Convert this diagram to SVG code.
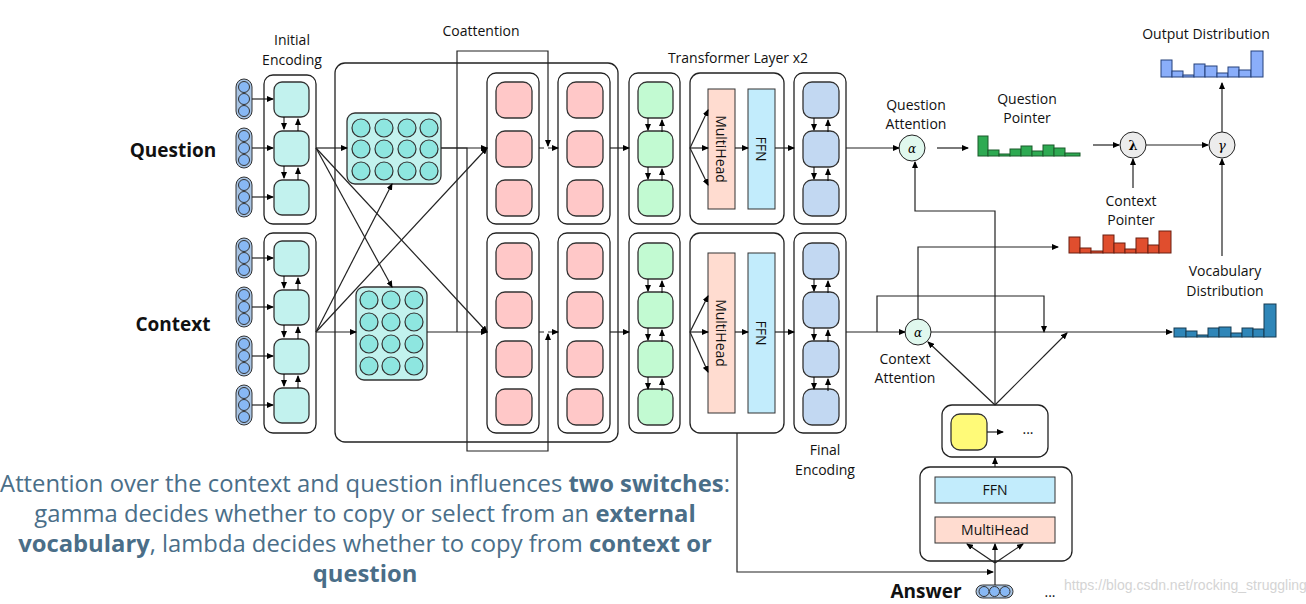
<svg xmlns="http://www.w3.org/2000/svg" width="1306" height="604" viewBox="0 0 1306 604">
<defs>
<marker id="a" markerUnits="userSpaceOnUse" markerWidth="7" markerHeight="6" refX="6" refY="3" orient="auto"><path d="M0,0L7,3L0,6z" fill="#000"/></marker>
<g id="pill"><rect x="-8" y="-20" width="16" height="40" rx="8" fill="#a8c4e4" stroke="#333" stroke-width="1"/><circle cy="-12" r="5.5" fill="#88b8f4" stroke="#333"/><circle r="5.5" fill="#88b8f4" stroke="#333"/><circle cy="12" r="5.5" fill="#88b8f4" stroke="#333"/></g>
<g id="ud"><line x1="-7" y1="0" x2="-7" y2="12" stroke="#000" marker-end="url(#a)"/><line x1="7" y1="14" x2="7" y2="2" stroke="#000" marker-end="url(#a)"/></g>
<circle id="dot" r="9" fill="#8ee6e0" stroke="#333" stroke-width="1.2"/>
</defs>
<style>
.box{fill:#fff;stroke:#222;stroke-width:1.3}
.c{stroke:#333;stroke-width:1.3}
.cy{fill:#c2f2ee}.pk{fill:#ffc8c8}.gr{fill:#c2fad2}.bl{fill:#c2d8f2}
.ln{fill:none;stroke:#222;stroke-width:1.2}
.t{font-family:"Open Sans","Noto Sans",sans-serif;font-size:14px;fill:#111;text-anchor:middle}
.b{font-family:"Open Sans","Noto Sans",sans-serif;font-size:19px;font-weight:bold;fill:#111;text-anchor:middle}
.p{font-family:"Open Sans","Noto Sans",sans-serif;font-size:23.8px;fill:#4a6e88;text-anchor:middle}
</style>

<g id="labels">
<text class="t" x="292" y="45">Initial</text><text class="t" x="292" y="65">Encoding</text>
<text class="t" x="481" y="36">Coattention</text>
<text class="t" x="738" y="63">Transformer Layer x2</text>
<text class="b" x="173" y="157">Question</text>
<text class="b" x="173" y="331">Context</text>
<text class="t" x="825" y="455">Final</text><text class="t" x="825" y="475">Encoding</text>
<text class="t" x="916" y="110">Question</text><text class="t" x="916" y="129">Attention</text>
<text class="t" x="1027" y="104">Question</text><text class="t" x="1027" y="123">Pointer</text>
<text class="t" x="1131" y="206">Context</text><text class="t" x="1131" y="225">Pointer</text>
<text class="t" x="1206" y="39">Output Distribution</text>
<text class="t" x="1225" y="276">Vocabulary</text><text class="t" x="1225" y="296">Distribution</text>
<text class="t" x="905" y="364">Context</text><text class="t" x="905" y="383">Attention</text>
<text class="b" x="926" y="598">Answer</text>
<text class="t" x="1050" y="597">...</text>
<text x="1064" y="590" style="font-family:'Liberation Sans',sans-serif;font-size:14px;fill:#d4d4d4">https://blog.csdn.net/rocking_struggling</text>
<text class="p" x="365" y="492">Attention over the context and question influences <tspan font-weight="bold">two switches</tspan>:</text>
<text class="p" x="365" y="522">gamma decides whether to copy or select from an <tspan font-weight="bold">external</tspan></text>
<text class="p" x="365" y="552"><tspan font-weight="bold">vocabulary</tspan>, lambda decides whether to copy from <tspan font-weight="bold">context or</tspan></text>
<text class="p" x="365" y="582" font-weight="bold">question</text>
</g>

<g id="coatt-outer"><rect class="box" x="335" y="63" width="283" height="379" rx="10"/></g>

<g id="tokens">
<use href="#pill" x="244" y="99"/><use href="#pill" x="244" y="148"/><use href="#pill" x="244" y="197"/>
<use href="#pill" x="244" y="258"/><use href="#pill" x="244" y="307"/><use href="#pill" x="244" y="356"/><use href="#pill" x="244" y="405"/>
</g>

<g id="init-q"><rect class="box" x="264" y="75" width="52" height="149" rx="9"/>
<rect class="c cy" x="274" y="82" width="35" height="35" rx="8"/><rect class="c cy" x="274" y="131" width="35" height="35" rx="8"/><rect class="c cy" x="274" y="180" width="35" height="35" rx="8"/>
<use href="#ud" x="291" y="117"/><use href="#ud" x="291" y="166"/></g>
<g id="init-c"><rect class="box" x="264" y="233" width="52" height="200" rx="9"/>
<rect class="c cy" x="274" y="241" width="35" height="35" rx="8"/><rect class="c cy" x="274" y="290" width="35" height="35" rx="8"/><rect class="c cy" x="274" y="339" width="35" height="35" rx="8"/><rect class="c cy" x="274" y="388" width="35" height="35" rx="8"/>
<use href="#ud" x="291" y="276"/><use href="#ud" x="291" y="325"/><use href="#ud" x="291" y="374"/></g>

<g id="qmat"><rect class="c cy" x="347" y="113" width="94" height="71" rx="8"/>
<use href="#dot" x="361" y="128"/><use href="#dot" x="384" y="128"/><use href="#dot" x="407" y="128"/><use href="#dot" x="429" y="128"/>
<use href="#dot" x="361" y="149"/><use href="#dot" x="384" y="149"/><use href="#dot" x="407" y="149"/><use href="#dot" x="429" y="149"/>
<use href="#dot" x="361" y="171"/><use href="#dot" x="384" y="171"/><use href="#dot" x="407" y="171"/><use href="#dot" x="429" y="171"/></g>
<g id="cmat"><rect class="c cy" x="356" y="287" width="71" height="93" rx="8"/>
<use href="#dot" x="369" y="300"/><use href="#dot" x="391" y="300"/><use href="#dot" x="414" y="300"/>
<use href="#dot" x="369" y="322"/><use href="#dot" x="391" y="322"/><use href="#dot" x="414" y="322"/>
<use href="#dot" x="369" y="344"/><use href="#dot" x="391" y="344"/><use href="#dot" x="414" y="344"/>
<use href="#dot" x="369" y="366"/><use href="#dot" x="391" y="366"/><use href="#dot" x="414" y="366"/></g>

<g id="pink1-q"><rect class="box" x="487" y="73" width="52" height="151" rx="9"/>
<rect class="c pk" x="496" y="82" width="36" height="36" rx="9"/><rect class="c pk" x="496" y="131" width="36" height="36" rx="9"/><rect class="c pk" x="496" y="180" width="36" height="36" rx="9"/></g>
<g id="pink1-c"><rect class="box" x="487" y="233" width="52" height="200" rx="9"/>
<rect class="c pk" x="496" y="243" width="36" height="36" rx="9"/><rect class="c pk" x="496" y="292" width="36" height="36" rx="9"/><rect class="c pk" x="496" y="341" width="36" height="36" rx="9"/><rect class="c pk" x="496" y="389" width="36" height="36" rx="9"/></g>
<g id="pink2-q"><rect class="box" x="558" y="73" width="52" height="151" rx="9"/>
<rect class="c pk" x="567" y="82" width="36" height="36" rx="9"/><rect class="c pk" x="567" y="131" width="36" height="36" rx="9"/><rect class="c pk" x="567" y="180" width="36" height="36" rx="9"/></g>
<g id="pink2-c"><rect class="box" x="558" y="233" width="52" height="200" rx="9"/>
<rect class="c pk" x="567" y="243" width="36" height="36" rx="9"/><rect class="c pk" x="567" y="292" width="36" height="36" rx="9"/><rect class="c pk" x="567" y="341" width="36" height="36" rx="9"/><rect class="c pk" x="567" y="389" width="36" height="36" rx="9"/></g>

<g id="green-q"><rect class="box" x="629" y="73" width="51" height="151" rx="9"/>
<rect class="c gr" x="638" y="82" width="35" height="36" rx="9"/><rect class="c gr" x="638" y="131" width="35" height="36" rx="9"/><rect class="c gr" x="638" y="180" width="35" height="36" rx="9"/>
<use href="#ud" x="655" y="118"/><use href="#ud" x="655" y="167"/></g>
<g id="green-c"><rect class="box" x="629" y="233" width="51" height="200" rx="9"/>
<rect class="c gr" x="638" y="243" width="35" height="36" rx="9"/><rect class="c gr" x="638" y="292" width="35" height="36" rx="9"/><rect class="c gr" x="638" y="341" width="35" height="36" rx="9"/><rect class="c gr" x="638" y="389" width="35" height="36" rx="9"/>
<use href="#ud" x="655" y="279"/><use href="#ud" x="655" y="328"/><use href="#ud" x="655" y="377"/></g>

<g id="trans-q"><rect class="box" x="690" y="73" width="94" height="151" rx="10"/>
<rect x="708" y="89" width="27" height="120" fill="#ffdcd0" stroke="#333"/><rect x="748" y="89" width="27" height="120" fill="#c2ecfc" stroke="#333"/>
<text class="t" transform="translate(716,149) rotate(90)">MultiHead</text><text class="t" transform="translate(756,149) rotate(90)">FFN</text></g>
<g id="trans-c"><rect class="box" x="690" y="233" width="94" height="200" rx="10"/>
<rect x="708" y="253" width="27" height="160" fill="#ffdcd0" stroke="#333"/><rect x="748" y="253" width="27" height="160" fill="#c2ecfc" stroke="#333"/>
<text class="t" transform="translate(716,333) rotate(90)">MultiHead</text><text class="t" transform="translate(756,333) rotate(90)">FFN</text></g>

<g id="blue-q"><rect class="box" x="794" y="73" width="52" height="151" rx="9"/>
<rect class="c bl" x="803" y="82" width="36" height="36" rx="9"/><rect class="c bl" x="803" y="131" width="36" height="36" rx="9"/><rect class="c bl" x="803" y="180" width="36" height="36" rx="9"/>
<use href="#ud" x="821" y="118"/><use href="#ud" x="821" y="167"/></g>
<g id="blue-c"><rect class="box" x="794" y="233" width="52" height="200" rx="9"/>
<rect class="c bl" x="803" y="243" width="36" height="36" rx="9"/><rect class="c bl" x="803" y="292" width="36" height="36" rx="9"/><rect class="c bl" x="803" y="341" width="36" height="36" rx="9"/><rect class="c bl" x="803" y="389" width="36" height="36" rx="9"/>
<use href="#ud" x="821" y="279"/><use href="#ud" x="821" y="328"/><use href="#ud" x="821" y="377"/></g>

<g id="qatt"><circle cx="912" cy="148" r="13" fill="#e0f8ee" stroke="#222"/><text x="912" y="153" text-anchor="middle" style="font-family:'DejaVu Serif',serif;font-size:12px;font-style:italic">α</text></g>
<g id="catt"><circle cx="918" cy="332" r="13" fill="#e0f8ee" stroke="#222"/><text x="918" y="337" text-anchor="middle" style="font-family:'DejaVu Serif',serif;font-size:12px;font-style:italic">α</text></g>
<g id="lambda"><circle cx="1133" cy="145" r="13" fill="#ececec" stroke="#222"/><text x="1133" y="150" text-anchor="middle" style="font-family:'DejaVu Serif',serif;font-size:13px;font-weight:bold">λ</text></g>
<g id="gamma"><circle cx="1222" cy="145" r="13" fill="#ececec" stroke="#222"/><text x="1222" y="150" text-anchor="middle" style="font-family:'DejaVu Serif',serif;font-size:13px;font-style:italic">γ</text></g>

<g id="qptr" fill="#2eaa52" stroke="#1a5a2a">
<rect x="978" y="136" width="10" height="20"/><rect x="988" y="150" width="11" height="6"/><rect x="999" y="154" width="11" height="2"/><rect x="1010" y="149" width="11" height="7"/><rect x="1021" y="146" width="11" height="10"/><rect x="1032" y="151" width="11" height="5"/><rect x="1043" y="145" width="11" height="11"/><rect x="1054" y="148" width="11" height="8"/><rect x="1065" y="153" width="15" height="3"/></g>
<g id="cptr" fill="#e04e2e" stroke="#6a1e10">
<rect x="1069" y="237" width="11" height="16"/><rect x="1080" y="248" width="11" height="5"/><rect x="1091" y="251" width="12" height="2"/><rect x="1103" y="235" width="11" height="18"/><rect x="1114" y="243" width="11" height="10"/><rect x="1125" y="249" width="11" height="4"/><rect x="1136" y="238" width="12" height="15"/><rect x="1148" y="245" width="11" height="8"/><rect x="1159" y="231" width="12" height="22"/></g>
<g id="outd" fill="#8aaefa" stroke="#24407a">
<rect x="1161" y="60" width="11" height="17"/><rect x="1172" y="71" width="11" height="6"/><rect x="1183" y="75" width="11" height="2"/><rect x="1194" y="64" width="11" height="13"/><rect x="1205" y="66" width="12" height="11"/><rect x="1217" y="73" width="11" height="4"/><rect x="1228" y="67" width="11" height="10"/><rect x="1239" y="70" width="12" height="7"/><rect x="1251" y="51" width="12" height="26"/></g>
<g id="vocd" fill="#2f86b8" stroke="#163a50">
<rect x="1174" y="328" width="12" height="9"/><rect x="1186" y="331" width="11" height="6"/><rect x="1197" y="335" width="11" height="2"/><rect x="1208" y="328" width="11" height="9"/><rect x="1219" y="327" width="12" height="10"/><rect x="1231" y="333" width="11" height="4"/><rect x="1242" y="328" width="11" height="9"/><rect x="1253" y="329" width="11" height="8"/><rect x="1264" y="304" width="12" height="33"/></g>

<g id="decoder"><rect class="box" x="942" y="405" width="106" height="52" rx="10"/>
<rect x="951" y="414" width="36" height="36" rx="9" fill="#fffa78" stroke="#333" stroke-width="1.3"/>
<line class="ln" x1="987" y1="432" x2="1003" y2="432" marker-end="url(#a)"/><text class="t" x="1028" y="434">...</text></g>
<g id="dec-trans"><rect class="box" x="920" y="467" width="152" height="94" rx="10"/>
<rect x="935" y="477" width="120" height="26" fill="#c2ecfc" stroke="#333"/><text class="t" x="995" y="495">FFN</text>
<rect x="935" y="517" width="120" height="26" fill="#ffdcd0" stroke="#333"/><text class="t" x="995" y="535">MultiHead</text></g>
<g id="answer-tok"><rect x="976" y="585" width="37" height="13" rx="6.5" fill="#a8c4e4" stroke="#333"/><circle cx="984" cy="591.5" r="5" fill="#88b8f4" stroke="#333"/><circle cx="994.5" cy="591.5" r="5" fill="#88b8f4" stroke="#333"/><circle cx="1005" cy="591.5" r="5" fill="#88b8f4" stroke="#333"/></g>

<g id="connectors" class="ln">
<g marker-end="url(#a)">
<line x1="252" y1="99" x2="273" y2="99"/><line x1="252" y1="148" x2="273" y2="148"/><line x1="252" y1="197" x2="273" y2="197"/>
<line x1="252" y1="258" x2="273" y2="258"/><line x1="252" y1="307" x2="273" y2="307"/><line x1="252" y1="356" x2="273" y2="356"/><line x1="252" y1="405" x2="273" y2="405"/>
<line x1="316" y1="148" x2="347" y2="148"/><line x1="316" y1="332" x2="356" y2="332"/>
<line x1="316" y1="148" x2="392" y2="287"/><line x1="316" y1="148" x2="487" y2="332"/>
<line x1="316" y1="332" x2="392" y2="184"/><line x1="316" y1="332" x2="487" y2="148"/>
<path d="M441,148H487"/><path d="M427,332H487"/>
<path d="M457,332V51H548V146"/><path d="M441,148H467V451H548V334"/>
<line x1="539" y1="148" x2="558" y2="148" stroke-dasharray="5,4"/><line x1="539" y1="332" x2="558" y2="332" stroke-dasharray="5,4"/>
<line x1="610" y1="148" x2="629" y2="148"/><line x1="610" y1="332" x2="629" y2="332"/>
<line x1="690" y1="148" x2="708" y2="110"/><line x1="690" y1="148" x2="708" y2="148"/><line x1="690" y1="148" x2="708" y2="185"/>
<line x1="690" y1="332" x2="708" y2="296"/><line x1="690" y1="332" x2="708" y2="332"/><line x1="690" y1="332" x2="708" y2="372"/>
<line x1="735" y1="148" x2="748" y2="148"/><line x1="735" y1="332" x2="748" y2="332"/>
<line x1="775" y1="148" x2="794" y2="148"/><line x1="775" y1="332" x2="794" y2="332"/>
<line x1="846" y1="148" x2="899" y2="148"/><line x1="846" y1="332" x2="905" y2="332"/>
<line x1="937" y1="148" x2="968" y2="148"/><line x1="1093" y1="145" x2="1119" y2="145"/><line x1="1146" y1="145" x2="1208" y2="145"/>
<line x1="1222" y1="132" x2="1222" y2="83"/><line x1="1133" y1="188" x2="1133" y2="159"/><line x1="1222" y1="256" x2="1222" y2="159"/>
<path d="M918,319V247H1058"/><path d="M877,332V296H1044V332"/><line x1="931" y1="332" x2="1172" y2="332"/>
<line x1="995" y1="405" x2="928" y2="342"/><line x1="995" y1="405" x2="1067" y2="333"/><path d="M995,405V211H915V162"/>
<line x1="995" y1="467" x2="995" y2="458"/>
<line x1="995" y1="563" x2="967" y2="544"/><line x1="995" y1="563" x2="995" y2="544"/><line x1="995" y1="563" x2="1023" y2="544"/>
<path d="M737,433V572H993"/>
</g>
<line x1="995" y1="585" x2="995" y2="561"/>
</g>
</svg>
